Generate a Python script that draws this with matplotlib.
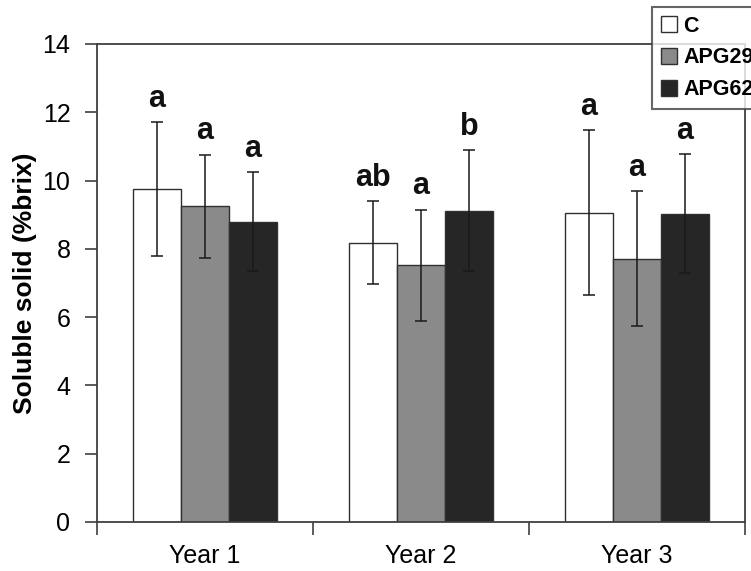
import matplotlib
matplotlib.use("Agg")
import matplotlib.pyplot as plt
import numpy as np

plt.rcParams['font.family'] = ['Liberation Sans', 'DejaVu Sans']

categories = ["Year 1", "Year 2", "Year 3"]
series = ["C", "APG29", "APG62"]
values = {
    "C":     [9.74, 8.18, 9.06],
    "APG29": [9.25, 7.52, 7.71],
    "APG62": [8.79, 9.11, 9.03],
}
errors = {
    "C":     [1.96, 1.22, 2.42],
    "APG29": [1.51, 1.63, 1.98],
    "APG62": [1.45, 1.77, 1.74],
}
letters = {
    "C":     ["a", "ab", "a"],
    "APG29": ["a", "a", "a"],
    "APG62": ["a", "b", "a"],
}
colors = {"C": "#ffffff", "APG29": "#8a8a8a", "APG62": "#262626"}
yticks = [0, 2, 4, 6, 8, 10, 12, 14]

fig = plt.figure(figsize=(7.51, 5.71), dpi=100)
ax = fig.add_axes([0.129, 0.086, 0.863, 0.837])

x = np.arange(len(categories)) + 0.5
width = 0.222
offsets = [-width, 0, width]
handles = []
for s, off in zip(series, offsets):
    b = ax.bar(x + off, values[s], width, color=colors[s], edgecolor="#303030",
               linewidth=1.0, label=s, zorder=2)
    handles.append(b)
    ax.errorbar(x + off, values[s], yerr=errors[s], fmt="none", ecolor="#1a1a1a",
                elinewidth=1.1, capsize=4, capthick=1.1, zorder=3)
    for xi, v, e, t in zip(x + off, values[s], errors[s], letters[s]):
        ax.text(xi, v + e + 0.45, t, ha="center", va="baseline",
                fontsize=22, fontweight="bold", color="#111111")

ax.set_xlim(0, 3)
ax.set_ylim(0, 14)
ax.set_yticks(yticks)
ax.set_xticks(x)
ax.set_xticklabels(categories)
ax.set_xticks(np.arange(0, 4), minor=True)
ax.tick_params(axis="x", which="major", length=0, pad=16, labelsize=18)
ax.tick_params(axis="x", which="minor", length=9, width=1.2, color="#404040", direction="out")
ax.tick_params(axis="y", length=9, width=1.2, color="#404040", direction="out",
               pad=10, labelsize=18)
for sp in ax.spines.values():
    sp.set_color("#404040")
    sp.set_linewidth(1.3)

ax.set_ylabel("Soluble solid (%brix)", fontsize=19, fontweight="bold", labelpad=4)

leg = fig.legend(handles=handles, labels=series, loc="upper left",
                 bbox_to_anchor=(652 / 751, 1 - 7 / 571), frameon=True,
                 prop={"weight": "bold", "size": 15.5}, handlelength=0.75,
                 handleheight=0.75, handletextpad=0.3, borderpad=0.4,
                 labelspacing=0.5, fancybox=False, borderaxespad=0)
leg.get_frame().set_edgecolor("#404040")
leg.get_frame().set_linewidth(1.5)
leg.get_frame().set_facecolor("white")
leg.set_zorder(10)

fig.savefig("out.png", dpi=100)
